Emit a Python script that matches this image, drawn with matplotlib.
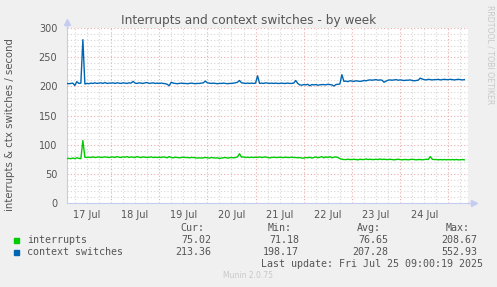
import numpy as np
import matplotlib
matplotlib.use("Agg")
import matplotlib.pyplot as plt

# hours since 17 Jul 00:00, one sample per hour (02:00 on 17 Jul .. 08:00 on 25 Jul)
hours = np.arange(2, 201)

# context switches per second, one row per day
ctx = [
    # 17 Jul (from 02:00)
    205, 204.5, 205, 205.5, 201.5, 208, 205, 205.5, 280, 204, 205, 204.5, 205.5, 205, 206, 205, 205.5, 206, 205, 206.5, 205, 205.5,
    # 18 Jul
    205.5, 206, 205, 206, 205.5, 205, 206, 205.5, 205, 206, 205.5, 208.5, 205.5, 205, 206, 205.5, 205, 206, 206.5, 205, 205.5, 206, 205, 205.5,
    # 19 Jul
    205, 205.5, 205, 204.5, 203.5, 201, 207, 205.5, 205, 204.5, 205, 205.5, 205, 205, 204.5, 205, 205.5, 205, 204.5, 205, 205, 205.5, 206, 209,
    # 20 Jul
    206, 205.5, 205, 205.5, 205, 204.5, 205, 205, 205.5, 205, 204.5, 205, 205, 205.5, 206, 207, 210, 206, 205.5, 205, 205.5, 205, 205.5, 205,
    # 21 Jul
    205.5, 218, 205, 205.5, 205, 206, 205.5, 205, 205.5, 205, 205.5, 205, 205, 205.5, 205, 205, 205.5, 205, 205, 205.5, 210, 205, 202.5, 202,
    # 22 Jul
    203, 202.5, 203.5, 201, 203, 202.5, 203, 202, 202.5, 203, 203, 202.5, 203.5, 203, 202.5, 200.5, 203, 203.5, 204, 220, 208.5, 209, 208, 209.5,
    # 23 Jul
    209, 208.5, 209.5, 209, 208.5, 209, 210, 209.5, 210.5, 211, 210.5, 211, 211.5, 210.5, 211, 210.5, 207, 209, 210.5, 211, 210.5, 211, 211.5, 210.5,
    # 24 Jul
    211, 210.5, 210, 210.5, 210.5, 211, 210, 209.5, 210, 210.5, 214, 212.5, 211.5, 211, 212, 211.5, 211, 211.5, 211.5, 212, 211, 211.5, 212, 211.5,
    # 25 Jul (to 08:00)
    211.5, 212, 211.5, 211, 211.5, 212, 211.5, 211, 211.5,
]

# interrupts per second
irq = [
    76, 76.5, 76, 77, 76, 77.5, 76.5, 76, 107, 78.5, 78, 78.5, 78, 79, 78, 78.5, 79, 78, 78.5, 79, 78.5, 78,
    78.5, 79, 78, 79.5, 78.5, 78, 79, 78.5, 79.5, 78, 79, 78.5, 78, 79.5, 78.5, 78, 79, 78.5, 78, 78.5, 79, 78, 78.5, 78,
    78.5, 78, 79, 78.5, 77.5, 79.5, 78, 77.5, 78.5, 78, 77.5, 78, 78.5, 78, 78, 77.5, 78, 78, 77.5, 77, 77.5, 77, 77.5, 78,
    77.5, 77, 78, 77.5, 77, 77.5, 76.5, 77, 77.5, 78, 77, 77.5, 78, 77.5, 78, 79, 84.5, 78.5, 79, 78, 78.5, 78, 78.5, 78,
    78.5, 78, 79, 78, 78.5, 79, 78, 77.5, 78, 78.5, 78, 78, 78.5, 78, 78, 78.5, 78, 78, 78.5, 78, 78, 77.5, 78, 77,
    77, 78, 77.5, 78.5, 77, 78, 79, 77.5, 78.5, 79.5, 77.5, 79, 78, 79.5, 77.5, 78.5, 79, 78, 76, 75, 74.5, 74.5, 75, 74.5,
    74.5, 75, 74.5, 74, 75, 74.5, 74.5, 75.5, 74.5, 75, 74.5, 74.5, 75, 74.5, 75.5, 74.5, 75, 74.5, 74.5, 75, 74.5, 74, 74.5, 75,
    74.5, 74, 74.5, 74.5, 74, 74.5, 75, 74.5, 74, 74.5, 74.5, 74, 74.5, 75, 74.5, 79.5, 75, 74.5, 74.5, 74, 74.5, 74, 74.5, 74,
    74.5, 74, 74.5, 74, 74.5, 74, 74, 74.5, 74,
]

day_labels = ["17 Jul", "18 Jul", "19 Jul", "20 Jul", "21 Jul", "22 Jul", "23 Jul", "24 Jul"]
yticks = [0, 50, 100, 150, 200, 250, 300]

series_names = ["interrupts", "context switches"]
series_colors = ["#00CC00", "#0066B3"]
cur = ["75.02", "213.36"]
vmin = ["71.18", "198.17"]
avg = ["76.65", "207.28"]
vmax = ["208.67", "552.93"]

W, H = 497, 287
fig = plt.figure(figsize=(W / 100, H / 100), dpi=100, facecolor="#F0F0F0")
# plot box in pixels: x 67..468, y 28..203
ax = fig.add_axes([67 / W, (H - 203) / H, (468 - 67) / W, (203 - 28) / H])
ax.set_facecolor("white")

ax.set_xlim(2.1, 201.8)
ax.set_ylim(0, 300)

# rrdtool style grid: gray minor, red major
for y in range(10, 301, 10):
    c = "#EDAAAA" if y % 50 == 0 else "#D6D6D6"
    ax.axhline(y, color=c, lw=0.8, ls=(0, (1, 2)), zorder=1)
for h in range(6, 202, 6):
    c = "#EDAAAA" if h % 24 == 0 else "#D6D6D6"
    ax.axvline(h, color=c, lw=0.8, ls=(0, (1, 2)), zorder=1)

ax.plot(hours, irq, color=series_colors[0], lw=1.0, zorder=3)
ax.plot(hours, ctx, color=series_colors[1], lw=1.0, zorder=3)

# labels at noon of each day
ax.set_xticks([12 + 24 * i for i in range(len(day_labels))])
ax.set_xticklabels(day_labels)
ax.set_yticks(yticks)
ax.set_yticklabels([str(v) for v in yticks])
ax.tick_params(axis="both", length=0, labelsize=7, colors="#555555")
ax.tick_params(axis="y", pad=7)
ax.tick_params(axis="x", pad=5)

for s in ["top", "right"]:
    ax.spines[s].set_visible(False)
axis_col = "#C4CCF0"
ax.spines["left"].set_color(axis_col)
ax.spines["bottom"].set_color(axis_col)
# arrows at the axis ends
ax.plot([0, 0], [1.0, 1.035], color=axis_col, lw=1, transform=ax.transAxes, clip_on=False)
ax.plot([0], [1.035], marker="^", ms=5, color=axis_col, transform=ax.transAxes, clip_on=False)
ax.plot([1.0, 1.015], [0, 0], color=axis_col, lw=1, transform=ax.transAxes, clip_on=False)
ax.plot([1.015], [0], marker=">", ms=5, color=axis_col, transform=ax.transAxes, clip_on=False)

fig.text(248.5 / W, 1 - 24 / H, "Interrupts and context switches - by week",
         ha="center", va="baseline", fontsize=8.7, color="#555555")
fig.text(10 / W, 1 - 125 / H, "interrupts & ctx switches / second", rotation=90,
         ha="center", va="center", fontsize=7.3, color="#555555")
fig.text(490 / W, 1 - 5 / H, "RRDTOOL / TOBI OETIKER", rotation=270,
         ha="center", va="top", fontsize=5.6, color="#C8C8C8")

# legend table in monospace
mono = dict(family="DejaVu Sans Mono", fontsize=7.2, color="#555555", va="center")
cols_x = [211, 299, 388, 477]
heads = ["Cur:", "Min:", "Avg:", "Max:"]
for x, t in zip(cols_x, heads):
    fig.text((x - 7) / W, 1 - 228 / H, t, ha="right", **mono)
rows_y = [240, 252]
for i in range(2):
    y = rows_y[i]
    fig.patches.append(plt.Rectangle((14 / W, 1 - (y + 2.5) / H), 5 / W, 5 / H,
                                     transform=fig.transFigure, color=series_colors[i]))
    fig.text(27 / W, 1 - y / H, series_names[i], ha="left", **mono)
    for x, v in zip(cols_x, [cur[i], vmin[i], avg[i], vmax[i]]):
        fig.text(x / W, 1 - y / H, v, ha="right", **mono)
fig.text(483 / W, 1 - 264 / H, "Last update: Fri Jul 25 09:00:19 2025", ha="right", **mono)
fig.text(248 / W, 1 - 276 / H, "Munin 2.0.75", ha="center", va="center",
         fontsize=5.5, color="#C8C8C8")

fig.savefig("out.png", dpi=100, facecolor=fig.get_facecolor())
